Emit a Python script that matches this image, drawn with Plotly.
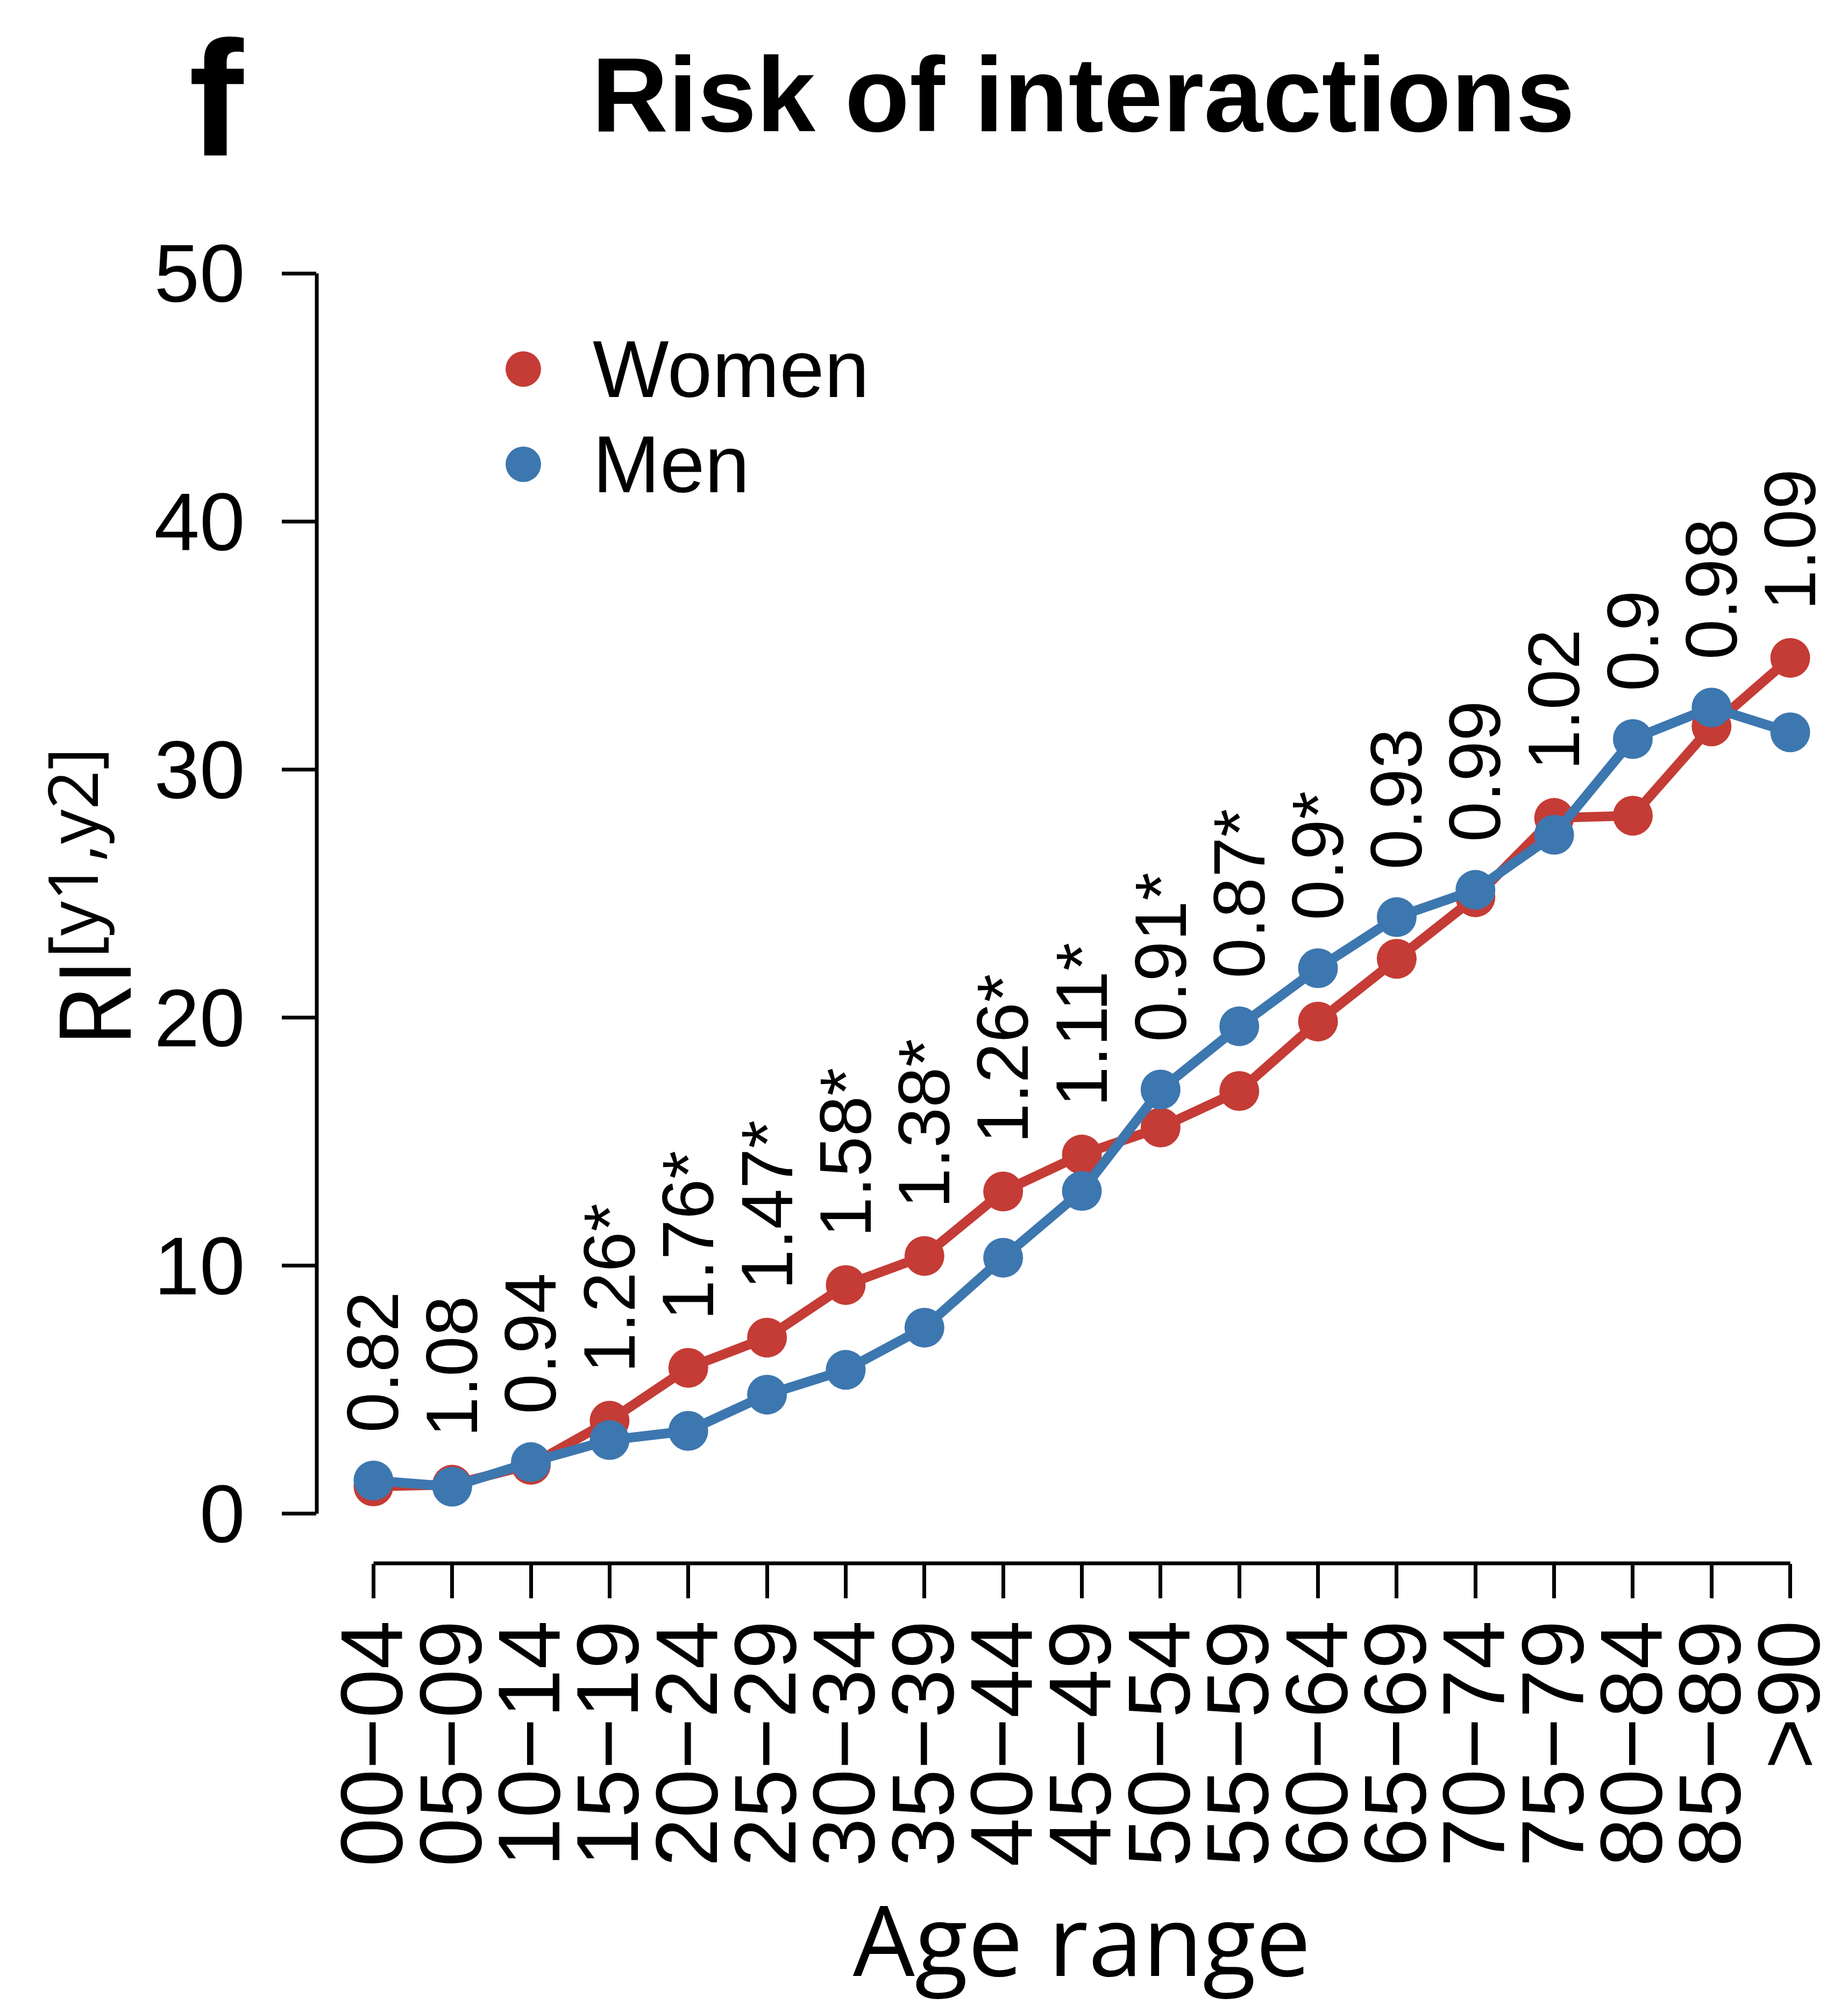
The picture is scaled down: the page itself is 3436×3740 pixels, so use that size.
import plotly.graph_objects as go

# ---------------- data ----------------
age_ranges = ["00−04", "05−09", "10−14", "15−19", "20−24", "25−29", "30−34",
              "35−39", "40−44", "45−49", "50−54", "55−59", "60−64", "65−69",
              "70−74", "75−79", "80−84", "85−89", ">90"]
women = [1.10, 1.17, 1.97, 3.75, 5.88, 7.10, 9.22, 10.39, 12.99, 14.48,
         15.57, 17.04, 19.84, 22.37, 24.85, 28.05, 28.14, 31.74, 34.50]
men = [1.34, 1.09, 2.08, 2.97, 3.34, 4.80, 5.80, 7.50, 10.32, 13.01,
       17.10, 19.65, 21.99, 24.05, 25.15, 27.37, 31.23, 32.50, 31.50]
ratio_labels = ["0.82", "1.08", "0.94", "1.26*", "1.76*", "1.47*", "1.58*",
                "1.38*", "1.26*", "1.11*", "0.91*", "0.87*", "0.9*", "0.93",
                "0.99", "1.02", "0.9", "0.98", "1.09"]
y_ticks = [0, 10, 20, 30, 40, 50]
series_names = ["Women", "Men"]

# ---------------- style / layout (page pixel targets) ----------------
PAGE_W, PAGE_H = 3436, 3740
OFF = 8                      # default body margin of the html page
W, H = PAGE_W - OFF, PAGE_H - OFF
PLOT_L, PLOT_R, PLOT_T, PLOT_B = 589, 3434, 416, 2906   # page coords
ML, MR = PLOT_L - OFF, W - (PLOT_R - OFF)
MT, MB = PLOT_T - OFF, H - (PLOT_B - OFF)
PW, PH = W - ML - MR, H - MT - MB
RED = "#C43C35"
BLUE = "#3D77AF"
SANS = "Liberation Sans, Arial, Helvetica, sans-serif"
TITLE_SANS = "Open Sans, Noto Sans, sans-serif"
AXW = 7


def paper_x(px):
    return (px - PLOT_L) / PW


def paper_y(py):
    return (PLOT_B - py) / PH


xpos = list(range(len(age_ranges)))

fig = go.Figure()
for name, vals, col in [(series_names[0], women, RED), (series_names[1], men, BLUE)]:
    fig.add_trace(go.Scatter(
        x=xpos, y=vals, mode="lines+markers", name=name,
        line=dict(color=col, width=18),
        marker=dict(color=col, size=74, line=dict(width=0)),
        showlegend=False,
    ))

# ratio labels above each pair of points
offset = 1.9
annotations = []
for i, lab in enumerate(ratio_labels):
    annotations.append(dict(
        x=xpos[i], y=max(women[i], men[i]) + offset, xref="x", yref="y",
        text=lab, showarrow=False, textangle=-90,
        xanchor="center", yanchor="bottom", borderpad=0,
        font=dict(family=SANS, size=135, color="black"),
    ))

# panel letter
annotations.append(dict(
    x=paper_x(403), y=paper_y(12), xref="paper", yref="paper",
    text="f", showarrow=False, xanchor="center", yanchor="top", borderpad=0,
    font=dict(family=SANS, size=305, color="black", weight="bold"),
))

# y-axis title (R-style label with raised bracket part)
annotations.append(dict(
    x=paper_x(298), y=paper_y(1669), xref="paper", yref="paper",
    text='<span style="font-size:185px">RI</span>'
         '<sup><span style="font-size:128px">[y1,y2]</span></sup>',
    showarrow=False, textangle=-90, xanchor="right", yanchor="middle",
    borderpad=0,
    font=dict(family=TITLE_SANS, size=145, color="black"),
))

# legend (custom, large dots like the reference)
shapes = []
leg_y = [686, 863]
for name, col, ly in zip(series_names, [RED, BLUE], leg_y):
    shapes.append(dict(
        type="circle", xref="paper", yref="paper",
        xsizemode="pixel", ysizemode="pixel",
        xanchor=paper_x(973), yanchor=paper_y(ly),
        x0=-33, x1=33, y0=-33, y1=33,
        fillcolor=col, line=dict(width=0),
    ))
    annotations.append(dict(
        x=paper_x(1100), y=paper_y(ly), xref="paper", yref="paper",
        text=name, showarrow=False, xanchor="left", yanchor="middle",
        font=dict(family=SANS, size=150, color="black"),
    ))

# detached R-style axis lines
shapes.append(dict(type="line", xref="paper", yref="y", x0=0, x1=0,
                   y0=min(y_ticks), y1=max(y_ticks),
                   line=dict(color="black", width=AXW)))
shapes.append(dict(type="line", xref="x", yref="paper", x0=xpos[0], x1=xpos[-1],
                   y0=0, y1=0, line=dict(color="black", width=AXW)))

fig.update_layout(
    width=W, height=H,
    margin=dict(l=ML, r=MR, t=MT, b=MB, autoexpand=False),
    paper_bgcolor="white", plot_bgcolor="white",
    title=dict(text="Risk of interactions", x=(2014 - OFF) / W,
               xref="container", xanchor="center",
               y=1 - (175 - OFF) / H, yref="container", yanchor="middle",
               font=dict(family=SANS, size=197, color="black", weight="bold")),
    xaxis=dict(
        range=[-0.72, len(age_ranges) - 1 + 0.72],
        tickmode="array", tickvals=xpos, ticktext=age_ranges,
        tickangle=-90, ticks="outside", ticklen=64, tickwidth=AXW,
        tickcolor="black", showline=False, showgrid=False, zeroline=False,
        tickfont=dict(family=SANS, size=163, color="black"),
        ticklabelstandoff=-24, automargin=False,
        title=dict(text="Age range", standoff=76,
                   font=dict(family=TITLE_SANS, size=182, color="black")),
    ),
    yaxis=dict(
        range=[-2, 52], tickmode="array", tickvals=y_ticks,
        ticks="outside", ticklen=64, tickwidth=AXW, tickcolor="black",
        showline=False, showgrid=False, zeroline=False,
        tickfont=dict(family=SANS, size=152, color="black"),
        ticklabelstandoff=38, automargin=False,
    ),
    annotations=annotations,
    shapes=shapes,
)

fig.write_html("out.html")
